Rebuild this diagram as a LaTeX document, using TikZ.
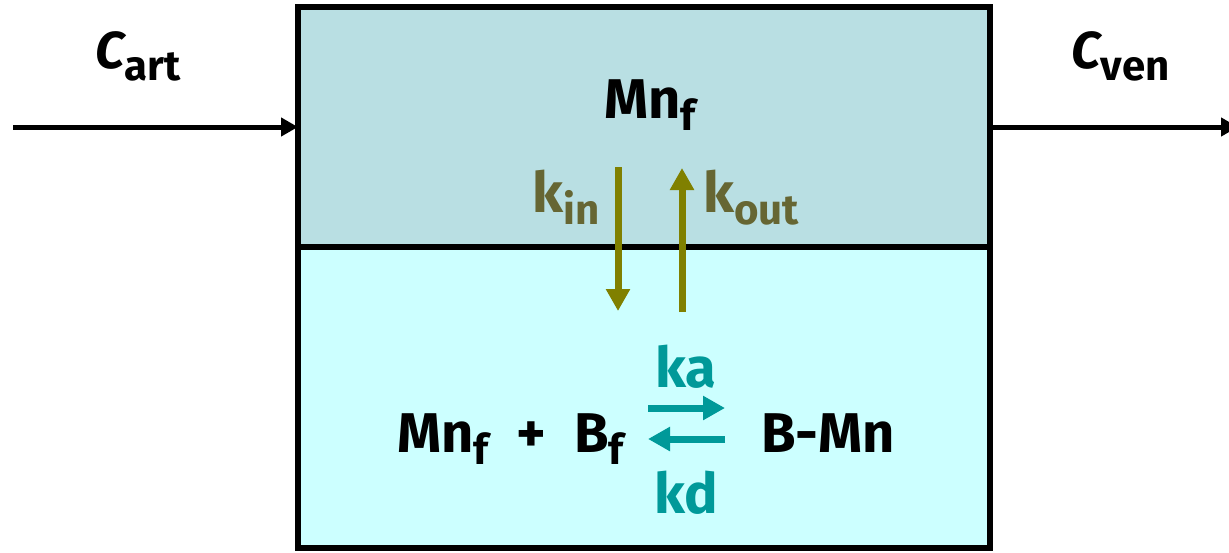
\documentclass[tikz,border=0pt]{standalone}
\usepackage{fontspec}
\setmainfont{Fira Sans}
\usetikzlibrary{arrows.meta, positioning}
\definecolor{topFill}{RGB}{185,223,227}
\definecolor{botFill}{RGB}{204,255,255}
\definecolor{rateTxt}{RGB}{102,102,51}
\definecolor{rateArr}{RGB}{128,128,0}
\definecolor{bindArr}{RGB}{0,153,153}
\newcommand{\subtxt}[1]{\raisebox{-6pt}{\fontsize{21}{21}\selectfont #1}}

\begin{document}
\begin{tikzpicture}[
      x=0.5pt, y=-0.5pt,
      txt/.style={inner sep=0pt, font=\fontsize{28}{32}\selectfont\bfseries},
      conc/.style={inner sep=0pt, anchor=base west, font=\fontsize{26}{30}\selectfont\bfseries\itshape},
      flow/.style={-{Triangle[length=8.5pt, width=9pt]}, line width=2.5pt, black},
      rate/.style={-{Triangle[length=11pt, width=11.5pt]}, line width=3.5pt, rateArr},
      bind/.style={-{Triangle[length=11pt, width=11.5pt]}, line width=3.5pt, bindArr},
      wall/.style={line width=3pt, black}
  ]
      \useasboundingbox (0,0) rectangle (1229,552);
      % compartments
      \fill[topFill] (298,7) rectangle (990,247);
      \fill[botFill] (298,247) rectangle (990,548);
      \draw[wall] (298,7) rectangle (990,548);
      \draw[wall] (298,247) -- (990,247);
      \coordinate (boxW) at (298,127);
      \coordinate (boxE) at (990,127);
      \coordinate (inlet) at (13,127);
      \coordinate (outlet) at (1238,127);
      % inflow / outflow
      \draw[flow] (inlet) -- (boxW);
      \draw[flow] (boxE) -- (outlet);
      \node[conc] (cart) at (95,68) {C\subtxt{\upshape art}};
      \node[conc] (cven) at (1071,68) {C\subtxt{\upshape ven}};
      % free manganese
      \node[txt, anchor=base] (mnfree) at (650,118) {Mn\subtxt{f}};
      % exchange
      \coordinate (inTop) at (618,167);
      \coordinate (inBot) at (618,311);
      \coordinate (outBot) at (682,312);
      \coordinate (outTop) at (682,168);
      \draw[rate] (inTop) -- (inBot);
      \draw[rate] (outBot) -- (outTop);
      \node[txt, anchor=base east, text=rateTxt] (kin) at (600,212) {k\subtxt{in}};
      \node[txt, anchor=base west, text=rateTxt] (kout) at (703,212) {k\subtxt{out}};
      % binding
      \node[txt, anchor=base east] (react) at (624,452) {Mn\subtxt{f}\hspace{14pt}+\hspace{14pt}B\subtxt{f}};
      \node[txt, anchor=base west] (prod) at (761,452) {B-Mn};
      \coordinate (fwdA) at (648,408);
      \coordinate (fwdB) at (725,408);
      \coordinate (bwdA) at (725,439);
      \coordinate (bwdB) at (648,439);
      \draw[bind] (fwdA) -- (fwdB);
      \draw[bind] (bwdA) -- (bwdB);
      \node[txt, anchor=base, text=bindArr] (ka) at (686,387) {ka};
      \node[txt, anchor=base, text=bindArr] (kd) at (686,513) {kd};
  \end{tikzpicture}
\end{document}
